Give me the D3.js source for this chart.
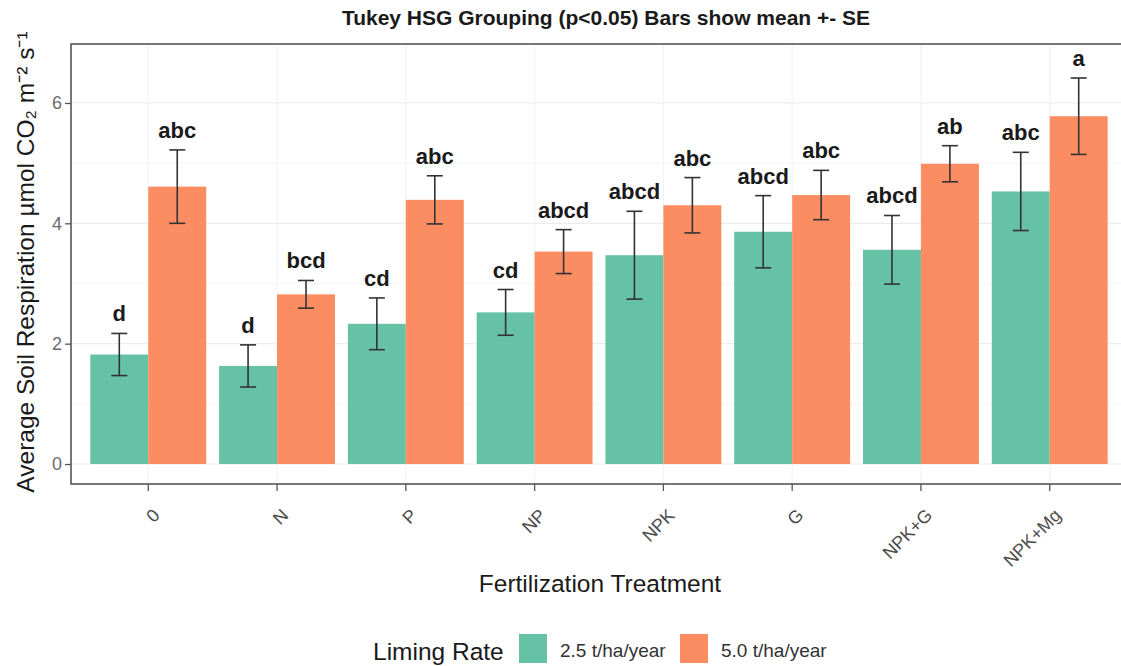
<!DOCTYPE html>
<html>
<head>
<meta charset="utf-8">
<script src="https://cdn.jsdelivr.net/npm/d3@7"></script>
<style>
  html, body { margin: 0; padding: 0; background: #fff; }
  svg { display: block; font-family: "Liberation Sans", Arial, sans-serif; }
</style>
</head>
<body>
<svg id="chart" width="1121" height="666"></svg>
<script>
// Fertilization treatments on the x axis
const treatments = ["0", "N", "P", "NP", "NPK", "G", "NPK+G", "NPK+Mg"];
// Liming rates (fill groups)
const limingRates = ["2.5 t/ha/year", "5.0 t/ha/year"];
// Mean soil respiration (µmol CO2 m-2 s-1) per treatment
const mean25 = [1.82, 1.63, 2.33, 2.52, 3.47, 3.86, 3.56, 4.53];
const mean50 = [4.61, 2.82, 4.39, 3.53, 4.30, 4.47, 4.99, 5.78];
// Standard errors
const se25 = [0.35, 0.35, 0.43, 0.38, 0.73, 0.60, 0.57, 0.65];
const se50 = [0.61, 0.23, 0.40, 0.365, 0.46, 0.41, 0.30, 0.635];
// Tukey HSD group letters
const tukey25 = ["d", "d", "cd", "cd", "abcd", "abcd", "abcd", "abc"];
const tukey50 = ["abc", "bcd", "abc", "abcd", "abc", "abc", "ab", "a"];
// Axis ticks
const yTicks = [0, 2, 4, 6];
const yMinor = [1, 3, 5];

const colors = { "2.5 t/ha/year": "#66c2a5", "5.0 t/ha/year": "#fc8d62" };

const rows = [];
treatments.forEach((t, i) => {
  rows.push({ t, rate: limingRates[0], mean: mean25[i], se: se25[i], label: tukey25[i] });
  rows.push({ t, rate: limingRates[1], mean: mean50[i], se: se50[i], label: tukey50[i] });
});

const svg = d3.select("#chart");
const panel = { left: 71, right: 1127, top: 44, bottom: 484 };

// dodged bars: 0.9 of each slot, 0.6 slot of padding at each end
const x = d3.scaleBand().domain(treatments)
  .range([panel.left, panel.right]).paddingInner(0.1).paddingOuter(0.15);
const xIn = d3.scaleBand().domain(limingRates).range([0, x.bandwidth()]);
const y = d3.scaleLinear().domain([-0.332, 6.98]).range([panel.bottom, panel.top]);

const g = svg.append("g");
g.append("rect").attr("x", panel.left).attr("y", panel.top)
  .attr("width", panel.right - panel.left).attr("height", panel.bottom - panel.top)
  .attr("fill", "#fff");

// grid
g.selectAll("line.minor").data(yMinor).join("line")
  .attr("x1", panel.left).attr("x2", panel.right)
  .attr("y1", d => y(d)).attr("y2", d => y(d))
  .attr("stroke", "#f5f5f5").attr("stroke-width", 1);
g.selectAll("line.major").data(yTicks).join("line")
  .attr("x1", panel.left).attr("x2", panel.right)
  .attr("y1", d => y(d)).attr("y2", d => y(d))
  .attr("stroke", "#ececec").attr("stroke-width", 1.2);
g.selectAll("line.vgrid").data(treatments).join("line")
  .attr("x1", d => x(d) + x.bandwidth() / 2).attr("x2", d => x(d) + x.bandwidth() / 2)
  .attr("y1", panel.top).attr("y2", panel.bottom)
  .attr("stroke", "#f3f3f3").attr("stroke-width", 1.2);

// bars
g.selectAll("rect.bar").data(rows).join("rect")
  .attr("x", d => x(d.t) + xIn(d.rate))
  .attr("width", xIn.bandwidth())
  .attr("y", d => y(d.mean))
  .attr("height", d => y(0) - y(d.mean))
  .attr("fill", d => colors[d.rate]);

// error bars (mean ± SE)
const cap = 8;
const eb = g.selectAll("g.err").data(rows).join("g")
  .attr("transform", d => `translate(${x(d.t) + xIn(d.rate) + xIn.bandwidth() / 2},0)`);
eb.append("line").attr("x1", 0).attr("x2", 0)
  .attr("y1", d => y(d.mean - d.se)).attr("y2", d => y(d.mean + d.se));
eb.append("line").attr("x1", -cap).attr("x2", cap)
  .attr("y1", d => y(d.mean + d.se)).attr("y2", d => y(d.mean + d.se));
eb.append("line").attr("x1", -cap).attr("x2", cap)
  .attr("y1", d => y(d.mean - d.se)).attr("y2", d => y(d.mean - d.se));
eb.selectAll("line").attr("stroke", "#333").attr("stroke-width", 1.6);

// Tukey letters above the error bars
g.selectAll("text.lab").data(rows).join("text")
  .attr("x", d => x(d.t) + xIn(d.rate) + xIn.bandwidth() / 2)
  .attr("y", d => y(d.mean + d.se) - 12)
  .attr("text-anchor", "middle")
  .attr("font-size", 22).attr("font-weight", "bold")
  .attr("fill", "#1a1a1a")
  .text(d => d.label);

// panel border
g.append("rect").attr("x", panel.left).attr("y", panel.top)
  .attr("width", panel.right - panel.left).attr("height", panel.bottom - panel.top)
  .attr("fill", "none").attr("stroke", "#555").attr("stroke-width", 1.6);

// y axis
const yAxis = svg.append("g").attr("transform", `translate(${panel.left},0)`)
  .call(d3.axisLeft(y).tickValues(yTicks).tickSize(6).tickPadding(3).tickFormat(d3.format("d")));
yAxis.select(".domain").remove();
yAxis.selectAll("line").attr("stroke", "#555").attr("stroke-width", 1.3);
yAxis.selectAll("text").attr("font-size", 18).attr("fill", "#6b6b6b")
  .attr("font-family", "Liberation Sans, Arial, sans-serif");

// x axis
const xAxis = svg.append("g").attr("transform", `translate(0,${panel.bottom})`)
  .call(d3.axisBottom(x).tickSize(7).tickPadding(0));
xAxis.select(".domain").remove();
xAxis.selectAll("line").attr("stroke", "#555").attr("stroke-width", 1.3);
xAxis.selectAll("text")
  .attr("font-size", 18).attr("fill", "#4d4d4d")
  .attr("font-family", "Liberation Sans, Arial, sans-serif")
  .attr("text-anchor", "end")
  .attr("dy", "0.35em")
  .attr("transform", "translate(8,28) rotate(-45)")
  .attr("y", 0).attr("x", 0);

// title
svg.append("text").attr("x", 606).attr("y", 25)
  .attr("text-anchor", "middle").attr("font-size", 21).attr("font-weight", "bold")
  .attr("fill", "#1a1a1a")
  .text("Tukey HSG Grouping (p<0.05) Bars show mean +- SE");

// axis titles
svg.append("text").attr("x", 600).attr("y", 592)
  .attr("text-anchor", "middle").attr("font-size", 24.5).attr("fill", "#1a1a1a")
  .text("Fertilization Treatment");
svg.append("text")
  .attr("transform", "translate(34,262) rotate(-90)")
  .attr("text-anchor", "middle").attr("font-size", 24.5).attr("fill", "#1a1a1a")
  .text("Average Soil Respiration µmol CO₂ m⁻² s⁻¹");

// legend
const leg = svg.append("g");
leg.append("text").attr("x", 373).attr("y", 660)
  .attr("font-size", 24.5).attr("fill", "#1a1a1a").text("Liming Rate");
const legX = [519, 680];
limingRates.forEach((r, i) => {
  leg.append("rect").attr("x", legX[i]).attr("y", 634).attr("width", 28).attr("height", 29)
    .attr("fill", colors[r]);
  leg.append("text").attr("x", legX[i] + 41).attr("y", 657)
    .attr("font-size", 19).attr("fill", "#333").text(r);
});
</script>
</body>
</html>
